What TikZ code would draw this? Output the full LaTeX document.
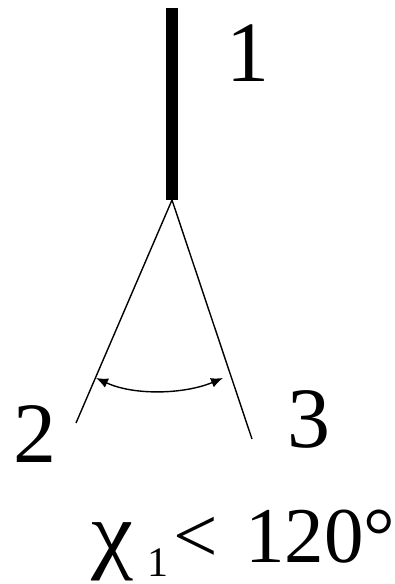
\documentclass[tikz,border=0pt]{standalone}
\usepackage{fontspec}
\setmainfont{Liberation Serif}
\usetikzlibrary{arrows.meta}
\tikzset{
  numlabel/.style={anchor=base west,inner sep=0pt,font=\fontsize{86}{86}\selectfont},
  stem/.style={line width=12pt,line cap=butt},
  branch/.style={line width=1.4pt},
  anglearrow/.style={{Latex[length=12pt,width=10pt]}-{Latex[length=12pt,width=10pt]},line width=1.4pt}
}
\begin{document}
\begin{tikzpicture}[x=1pt,y=-1pt]
\useasboundingbox (0,0) rectangle (395,584);
\coordinate (top) at (172,8);
\coordinate (apex) at (172,200);
\coordinate (end2) at (76,423);
\coordinate (end3) at (252,439);
\coordinate (arcl) at (96,378);
\coordinate (arcr) at (223,378);

\draw[stem] (top) -- (apex);
\draw[branch] (apex) -- (end2);
\draw[branch] (apex) -- (end3);
\draw[anglearrow] (arcl) .. controls (135,396) and (185,394) .. (arcr);

\node[numlabel] (l1) at (226,81) {1};
\node[numlabel] (l2) at (13,462) {2};
\node[numlabel] (l3) at (287,447) {3};
\node[numlabel,font=\fontsize{79}{79}\selectfont] (chi) at (91,562)
  {\makebox[56pt][l]{\scalebox{1.2}[1.1]{χ}}\makebox[26pt][l]{\raisebox{-14pt}{\fontsize{42}{42}\selectfont 1}}\makebox[72pt][l]{<}120°};
\end{tikzpicture}
\end{document}
